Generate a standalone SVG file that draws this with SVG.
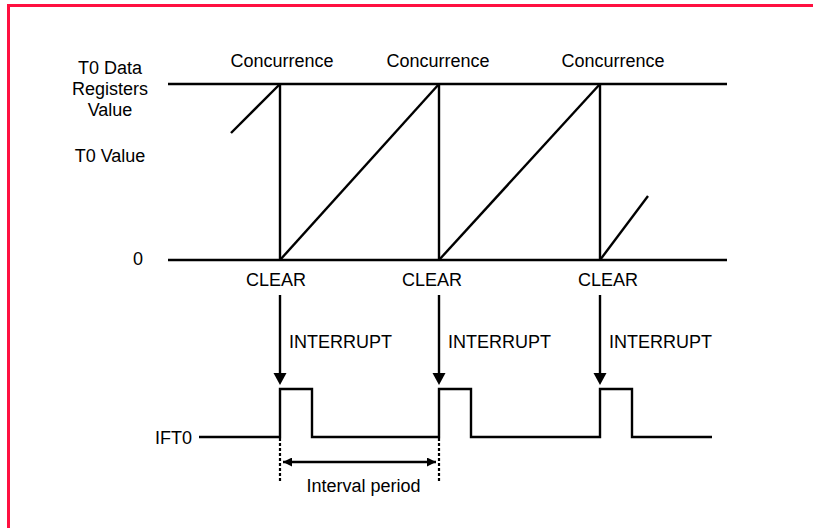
<svg xmlns="http://www.w3.org/2000/svg" width="813" height="528" viewBox="0 0 813 528">
<style>
text{font-family:"Liberation Sans",Arial,sans-serif;font-size:18px;fill:#000}
.ln{stroke:#000;stroke-width:2.4;fill:none}
.dot{stroke:#000;stroke-width:2.2;stroke-dasharray:3 2;fill:none}
</style>
<defs>
<marker id="ah" viewBox="0 0 10 10" refX="10" refY="5" markerWidth="10" markerHeight="9" markerUnits="userSpaceOnUse" orient="auto-start-reverse">
<path d="M0,0 L10,5 L0,10 z" fill="#000"/>
</marker>
</defs>
<rect x="8.5" y="5.5" width="900" height="600" fill="#fff" stroke="#ff1040" stroke-width="3"/>
<g id="axis-labels">
<text x="110" y="74" text-anchor="middle">T0 Data</text>
<text x="110" y="95" text-anchor="middle">Registers</text>
<text x="110" y="116" text-anchor="middle">Value</text>
<text x="110" y="162" text-anchor="middle">T0 Value</text>
<text x="138" y="265" text-anchor="middle">0</text>
<text x="155" y="444">IFT0</text>
</g>
<g id="timer-chart">
<line class="ln" x1="168" y1="84" x2="727" y2="84"/>
<line class="ln" x1="168" y1="260" x2="727" y2="260"/>
<line class="ln" x1="280" y1="84" x2="280" y2="260"/>
<line class="ln" x1="439" y1="84" x2="439" y2="260"/>
<line class="ln" x1="600" y1="84" x2="600" y2="260"/>
<line class="ln" x1="231" y1="133" x2="280" y2="84"/>
<line class="ln" x1="280" y1="260" x2="439" y2="84"/>
<line class="ln" x1="439" y1="260" x2="600" y2="84"/>
<line class="ln" x1="600" y1="260" x2="648" y2="196"/>
<text x="282" y="67" text-anchor="middle">Concurrence</text>
<text x="438" y="67" text-anchor="middle">Concurrence</text>
<text x="613" y="67" text-anchor="middle">Concurrence</text>
<text x="276" y="286" text-anchor="middle">CLEAR</text>
<text x="432" y="286" text-anchor="middle">CLEAR</text>
<text x="608" y="286" text-anchor="middle">CLEAR</text>
</g>
<g id="ift0-signal">
<polyline class="ln" points="199,437 280,437 280,389 312,389 312,437 439,437 439,389 471,389 471,437 600,437 600,389 632,389 632,437 712,437"/>
</g>
<g id="connectors">
<line class="ln" x1="280" y1="295" x2="280" y2="374"/>
<polygon points="273.5,373 286.5,373 280,385" fill="#000"/>
<line class="ln" x1="439" y1="295" x2="439" y2="374"/>
<polygon points="432.5,373 445.5,373 439,385" fill="#000"/>
<line class="ln" x1="600" y1="295" x2="600" y2="374"/>
<polygon points="593.5,373 606.5,373 600,385" fill="#000"/>
<text x="289" y="348">INTERRUPT</text>
<text x="448" y="348">INTERRUPT</text>
<text x="609" y="348">INTERRUPT</text>
<line class="dot" x1="280" y1="438" x2="280" y2="483"/>
<line class="dot" x1="439" y1="438" x2="439" y2="483"/>
<line class="ln" x1="283" y1="462" x2="436" y2="462" marker-start="url(#ah)" marker-end="url(#ah)"/>
<text x="363.5" y="492" text-anchor="middle">Interval period</text>
</g>
</svg>
